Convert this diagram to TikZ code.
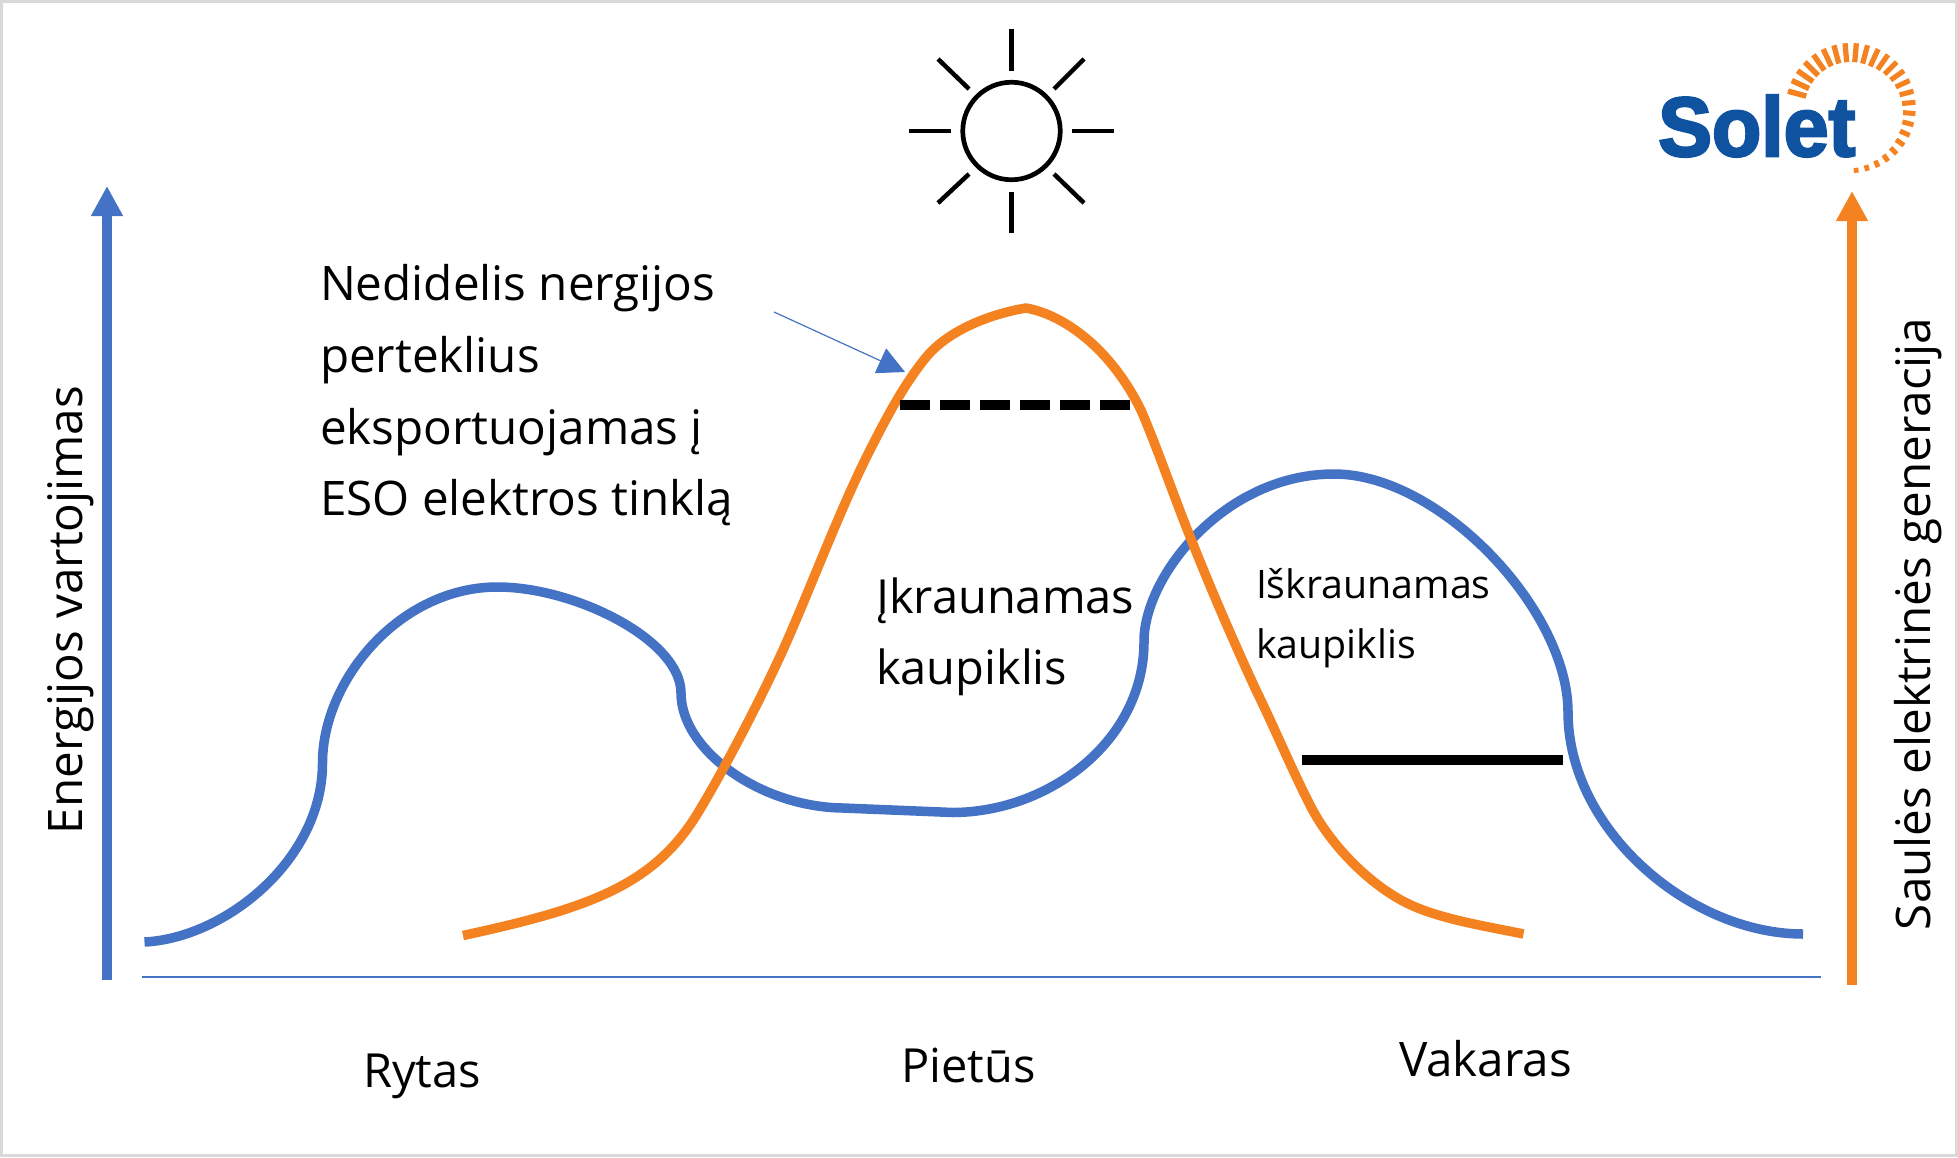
\documentclass[tikz,border=0pt]{standalone}
\usepackage{fontspec}
\setmainfont{Open Sans}
\newfontfamily\logofont[FakeBold=3,FakeStretch=.96]{Liberation Sans Bold}
\usetikzlibrary{arrows.meta}
\definecolor{ublue}{HTML}{4472C4}
\definecolor{uorange}{HTML}{F58220}
\definecolor{lblue}{HTML}{0F52A0}
\tikzset{
  x=1pt,y=-1pt,
  curve/.style={line width=9.5pt,line join=round},
  lbl/.style={anchor=base west,inner sep=0pt,outer sep=0pt,font=\fontsize{47.6}{47.6}\selectfont,text=black},
  mid/.style={lbl,font=\fontsize{47}{47}\selectfont},
  small/.style={lbl,font=\fontsize{39.3}{39.3}\selectfont},
  ray/.style={line width=4.5pt,black},
  axis/.style={line width=10pt,-{Triangle[length=30pt,width=30pt]}},
}
\begin{document}
\begin{tikzpicture}
\useasboundingbox (0,0) rectangle (1958,1157);
\draw[line width=3pt,color=black!15] (1.5,1.5) rectangle (1956.5,1155.5);
% baseline
\coordinate (b0) at (142,977); \coordinate (b1) at (1821,977);
\draw[ublue,line width=2pt] (b0) -- (b1);
% axes
\coordinate (a0) at (107,980); \coordinate (a1) at (107,186);
\draw[axis,ublue] (a0) -- (a1);
\coordinate (c0) at (1852,985); \coordinate (c1) at (1852,191);
\draw[axis,uorange] (c0) -- (c1);
% blue curve
\draw[curve,ublue] (144.5,942) .. controls (225,938) and (322.5,860) .. (322.5,763)
  .. controls (322.5,680) and (400,587) .. (497.4,587)
  .. controls (575,587) and (681,640) .. (681,693)
  .. controls (681,750) and (760,807) .. (843,808)
  -- (953,812.5)
  .. controls (1050,812) and (1145,740) .. (1144,640)
  .. controls (1145,575) and (1225,474) .. (1334,474)
  .. controls (1440,474) and (1568,610) .. (1568,712)
  .. controls (1568,830) and (1690,934) .. (1803,934);
% orange curve
\draw[curve,uorange,line width=9.5pt] (463,935.5) .. controls (590,908) and (655,885) .. (699,811)
  .. controls (725,768) and (765,691) .. (787,641)
  .. controls (812,584) and (840,510) .. (867,456)
  .. controls (885,420) and (905,382) .. (928,355)
  .. controls (950,330) and (990,314) .. (1026,308)
  .. controls (1065,315) and (1112,350) .. (1141.6,411.5)
  .. controls (1160,455) and (1175,500) .. (1193,544)
  .. controls (1210,587) and (1235,645) .. (1256.4,691)
  .. controls (1275,729) and (1292,770) .. (1310,805)
  .. controls (1330,845) and (1372,888) .. (1413,906)
  .. controls (1445,920) and (1490,927) .. (1523.5,934);
% levels
\coordinate (d0) at (900,405); \coordinate (d1) at (1130,405);
\draw[black,line width=10pt,dash pattern=on 30pt off 10pt] (d0) -- (d1);
\coordinate (s0) at (1302,760); \coordinate (s1) at (1563,760);
\draw[black,line width=9.5pt] (s0) -- (s1);
% thin arrow
\coordinate (t0) at (774,312); \coordinate (t1) at (905,372);
\draw[ublue,line width=1.2pt,-{Triangle[length=27pt,width=27pt]}] (t0) -- (t1);
% sun
\node[circle,draw=black,line width=4.7pt,minimum size=97.5pt,inner sep=0pt,outer sep=0pt] (sun) at (1011.5,131) {};
\foreach \a/\b/\c/\d in {1011.5/29/1011.5/71,1011.5/192/1011.5/233,909/131/951/131,1072/131/1114/131,938/59/969/89,1084/59/1054/89,938/203/969/174,1084/203/1054/174}
  \draw[ray] (\a,\b) -- (\c,\d);
% logo
\node[anchor=base west,inner sep=0pt,text=lblue,font=\logofont\fontsize{84}{84}\selectfont] (logo) at (1658,156) {Solet};
\foreach \i in {0,...,25}{
  \pgfmathsetmacro{\ang}{165-10*\i}
  \pgfmathsetmacro{\len}{\i<=10 ? 19 : 19-(\i-10)*14/15}
  \pgfmathsetmacro{\wid}{5.5-\i*0.03}
  \draw[uorange,line width=\wid pt] (1850.7,108) ++({65*cos(\ang)},{-65*sin(\ang)}) -- ++({-\len*cos(\ang)},{\len*sin(\ang)});
}
% text
\node[lbl] (n1) at (320,300) {Nedidelis nergijos};
\node[lbl] (n2) at (320,372) {perteklius};
\node[lbl] (n3) at (320,444) {eksportuojamas į};
\node[lbl] (n4) at (320,515) {ESO elektros tinklą};
\node[mid] (i1) at (876,613) {Įkraunamas};
\node[mid] (i2) at (876,684) {kaupiklis};
\node[small] (k1) at (1256,598) {Iškraunamas};
\node[small] (k2) at (1256,658) {kaupiklis};
\node[mid] (r) at (363,1087) {Rytas};
\node[mid] (p) at (901,1082) {Pietūs};
\node[lbl] (v) at (1399,1076) {Vakaras};
\node[lbl,rotate=90] (e) at (82,834) {Energijos vartojimas};
\node[lbl,rotate=90] (g) at (1930,930) {Saulės elektrinės generacija};
\end{tikzpicture}
\end{document}
